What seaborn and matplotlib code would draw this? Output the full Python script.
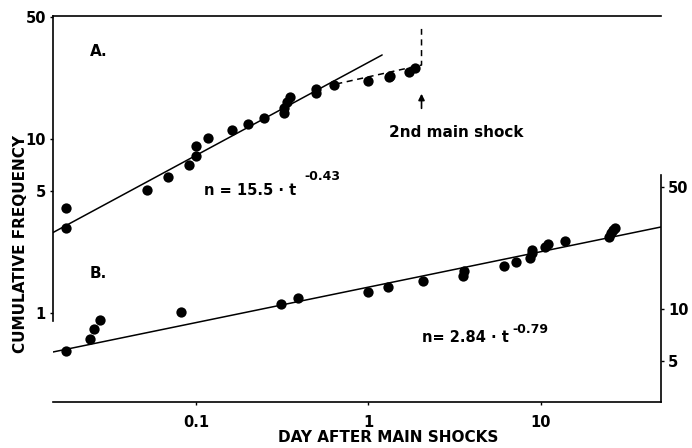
import matplotlib
matplotlib.use("Agg")
import matplotlib.pyplot as plt
import seaborn as sns

# sequence A, left scale (days, cumulative frequency)
a_days = [0.0177, 0.0177, 0.0516, 0.0684, 0.0905, 0.1005, 0.100, 0.118, 0.161,
          0.199, 0.247, 0.325, 0.325, 0.339, 0.35, 0.496, 0.496, 0.627,
          1.0, 1.31, 1.33, 1.71, 1.87]
a_count = [4.01, 3.08, 5.09, 6.05, 7.09, 7.98, 9.12, 10.1, 11.3,
           12.2, 13.2, 14.1, 15.1, 16.3, 17.4, 18.4, 19.4, 20.4,
           21.5, 22.7, 23.0, 24.3, 25.6]
a_fit_days = [0.0148, 1.2]
a_fit_count = [2.9, 30.4]
a_dash_days = [0.65, 2.03, 2.03]
a_dash_count = [20.7, 26.6, 42.9]
second_shock_day = 2.03

# sequence B, right scale
b_days = [0.0177, 0.0244, 0.0255, 0.0276, 0.0813, 0.309, 0.388, 1.0, 1.29,
          2.06, 3.51, 3.6, 6.07, 7.2, 8.7, 8.9, 8.9, 10.6, 11.0, 13.7,
          24.9, 25.5, 26.3, 26.9]
b_count = [5.74, 6.73, 7.67, 8.64, 9.6, 10.7, 11.6, 12.5, 13.4,
           14.5, 15.5, 16.5, 17.6, 18.6, 19.6, 21.0, 21.8, 22.7, 23.6, 24.6,
           26.0, 27.4, 28.4, 29.2]
b_fit_days = [0.0148, 49.7]
b_fit_count = [5.66, 29.6]

x_ticks = [0.1, 1, 10]
x_labels = ["0.1", "1", "10"]
left_ticks = [1, 5, 10, 50]
left_labels = ["1", "5", "10", "50"]
right_ticks = [5, 10, 50]
right_labels = ["5", "10", "50"]

sns.set_style("ticks")
plt.rcParams["font.family"] = ["DejaVu Sans"]
plt.rcParams["font.weight"] = "bold"
plt.rcParams["axes.labelweight"] = "bold"
for key in ("text.color", "axes.labelcolor", "xtick.color", "ytick.color"):
    plt.rcParams[key] = "black"

fig = plt.figure(figsize=(6.92, 4.48), dpi=100)
ax = fig.add_axes([53 / 692, 1 - 402 / 448, 608 / 692, 386 / 448])
ax2 = ax.twinx()

ax.set_xscale("log")
ax.set_yscale("log")
ax2.set_yscale("log")

# A
sns.scatterplot(x=a_days, y=a_count, ax=ax, color="black", s=55, linewidth=0)
sns.lineplot(x=a_fit_days, y=a_fit_count, ax=ax, color="black", lw=1.1)
sns.lineplot(x=a_dash_days, y=a_dash_count, ax=ax, color="black", lw=1.1,
             estimator=None, sort=False, dashes=False, linestyle=(0, (4, 3)))
ax.annotate("", xy=(second_shock_day, 18.2), xytext=(second_shock_day, 15.0),
            arrowprops=dict(arrowstyle="-|>", color="black", lw=1.2,
                            mutation_scale=9, shrinkA=0, shrinkB=0))

# B
sns.scatterplot(x=b_days, y=b_count, ax=ax2, color="black", s=55, linewidth=0)
sns.lineplot(x=b_fit_days, y=b_fit_count, ax=ax2, color="black", lw=1.1)

ax.set_xlim(0.0148, 49.7)
ax.set_ylim(0.308, 50.9)
ax2.set_ylim(2.92, 483)

ax.set_xticks(x_ticks)
ax.set_xticklabels(x_labels)
ax.set_yticks(left_ticks)
ax.set_yticklabels(left_labels)
ax2.set_yticks(right_ticks)
ax2.set_yticklabels(right_labels)
ax.minorticks_off()
ax2.minorticks_off()

for a in (ax, ax2):
    for s in a.spines.values():
        s.set_linewidth(1.2)
        s.set_color("black")
ax.tick_params(axis="x", length=2, pad=7, labelsize=10.5, width=1)
ax.tick_params(axis="y", length=2, pad=3, labelsize=10.5, width=1)
ax2.tick_params(axis="y", length=2, pad=3, labelsize=10.5, width=1)

ax.spines["right"].set_visible(False)
ax2.spines["left"].set_visible(False)
ax2.spines["top"].set_visible(False)
ax2.spines["bottom"].set_visible(False)
ax.spines["left"].set_bounds(0.9, 50.9)
ax2.spines["right"].set_bounds(2.92, 58.9)

ax.set_xlabel("DAY AFTER MAIN SHOCKS", fontsize=11, va="center")
ax.set_ylabel("CUMULATIVE FREQUENCY", fontsize=11, va="center")
ax.xaxis.set_label_coords(0.551, -0.093)
ax.yaxis.set_label_coords(-0.054, 0.409)

tr = ax.transAxes
ax.text(0.061, 0.907, "A.", transform=tr, fontsize=11, va="center")
ax.text(0.061, 0.334, "B.", transform=tr, fontsize=11, va="center")
ax.text(0.248, 0.549, "n = 15.5 · t", transform=tr, fontsize=10.5, va="center")
ax.text(0.414, 0.583, "-0.43", transform=tr, fontsize=9, va="center")
ax.text(0.664, 0.699, "2nd main shock", transform=tr, fontsize=11,
        va="center", ha="center")
ax.text(0.607, 0.166, "n= 2.84 · t", transform=tr, fontsize=10.5, va="center")
ax.text(0.755, 0.187, "-0.79", transform=tr, fontsize=9, va="center")

fig.savefig("out.png", dpi=100)
